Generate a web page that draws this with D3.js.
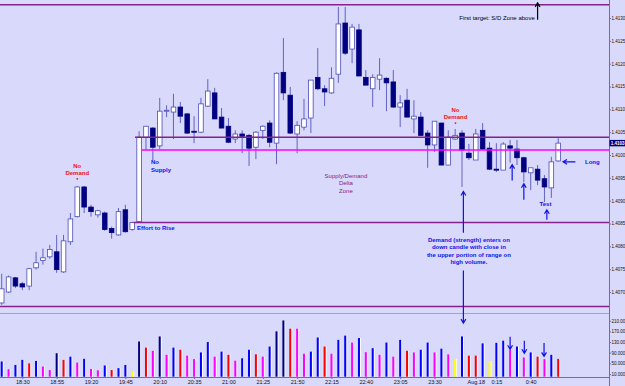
<!DOCTYPE html>
<html>
<head>
<meta charset="utf-8">
<script src="https://cdn.jsdelivr.net/npm/d3@7"></script>
<style>
  body { margin: 0; background: #d9d9fb; }
  svg { display: block; font-family: "Liberation Sans", Arial, sans-serif; }
  .axis text { fill: #111; font-size: 5.5px; }
  .axis.right text { font-size: 4.5px; }
  .axis path, .axis line { stroke: #6c6cb4; }
</style>
</head>
<body>
<svg id="chart" width="625" height="386"></svg>
<script>
// EURUSD-ish 5 min candles, 18:15 -> 1:00
const opens = [
  1.40676, 1.40700, 1.40731, 1.40718, 1.40713, 1.40753, 1.40769, 1.40777, 1.40788, 1.40744,
  1.40810, 1.40865, 1.40930, 1.40886, 1.40869, 1.40873, 1.40839, 1.40825, 1.40880, 1.40837,
  1.40854, 1.41039, 1.41059, 1.41020, 1.41096, 1.41094, 1.41105, 1.41090, 1.41052, 1.41050,
  1.41107, 1.41136, 1.41083, 1.41063, 1.41035, 1.41046, 1.41043, 1.41017, 1.41054, 1.41070,
  1.41026, 1.41181, 1.41131, 1.41046, 1.41061, 1.41081, 1.41170, 1.41145, 1.41136, 1.41177,
  1.41289, 1.41232, 1.41274, 1.41170, 1.41145, 1.41166, 1.41168, 1.41160, 1.41105, 1.41120,
  1.41079, 1.41083, 1.41048, 1.41022, 1.41070, 1.40978, 1.41035, 1.41048, 1.41004, 1.40989,
  1.41054, 1.41015, 1.40969, 1.40967, 1.41020, 1.41013, 1.40994, 1.40961, 1.40969, 1.40948,
  1.40928, 1.40987
];
const highs = [
  1.40740, 1.40736, 1.40733, 1.40722, 1.40753, 1.40788, 1.40795, 1.40803, 1.40825, 1.40825,
  1.40873, 1.40932, 1.40932, 1.40891, 1.40880, 1.40876, 1.40843, 1.40884, 1.40891, 1.40854,
  1.41052, 1.41063, 1.41061, 1.41125, 1.41109, 1.41134, 1.41116, 1.41092, 1.41085, 1.41125,
  1.41166, 1.41147, 1.41103, 1.41081, 1.41054, 1.41054, 1.41046, 1.41052, 1.41065, 1.41076,
  1.41181, 1.41256, 1.41149, 1.41074, 1.41123, 1.41164, 1.41234, 1.41153, 1.41192, 1.41324,
  1.41324, 1.41287, 1.41287, 1.41186, 1.41177, 1.41212, 1.41170, 1.41186, 1.41131, 1.41145,
  1.41120, 1.41094, 1.41054, 1.41074, 1.41070, 1.41054, 1.41057, 1.41054, 1.41024, 1.41057,
  1.41070, 1.41028, 1.41026, 1.41028, 1.41033, 1.41033, 1.40996, 1.40972, 1.40978, 1.40956,
  1.40996, 1.41037
];
const lows = [
  1.40672, 1.40698, 1.40709, 1.40704, 1.40704, 1.40749, 1.40760, 1.40773, 1.40742, 1.40742,
  1.40803, 1.40863, 1.40873, 1.40865, 1.40863, 1.40834, 1.40817, 1.40823, 1.40830, 1.40834,
  1.40852, 1.41011, 1.40989, 1.41013, 1.41083, 1.41035, 1.41070, 1.41046, 1.41026, 1.41048,
  1.41105, 1.41079, 1.41059, 1.41026, 1.41026, 1.41004, 1.40976, 1.40991, 1.41035, 1.41017,
  1.40980, 1.41120, 1.41046, 1.41004, 1.41054, 1.41048, 1.41142, 1.41107, 1.41134, 1.41158,
  1.41219, 1.41201, 1.41173, 1.41153, 1.41105, 1.41142, 1.41096, 1.41103, 1.41061, 1.41083,
  1.41048, 1.41041, 1.40972, 1.41007, 1.40978, 1.40978, 1.41033, 1.40930, 1.40989, 1.40989,
  1.41011, 1.40967, 1.40963, 1.40967, 1.40983, 1.40978, 1.40941, 1.40923, 1.40934, 1.40897,
  1.40906, 1.40985
];
const closes = [
  1.40707, 1.40733, 1.40713, 1.40711, 1.40751, 1.40764, 1.40775, 1.40793, 1.40749, 1.40812,
  1.40860, 1.40930, 1.40886, 1.40876, 1.40878, 1.40837, 1.40830, 1.40876, 1.40832, 1.40852,
  1.41039, 1.41063, 1.41017, 1.41096, 1.41098, 1.41105, 1.41085, 1.41048, 1.41050, 1.41112,
  1.41140, 1.41079, 1.41059, 1.41028, 1.41046, 1.41041, 1.41015, 1.41050, 1.41063, 1.41028,
  1.41179, 1.41136, 1.41048, 1.41065, 1.41079, 1.41164, 1.41145, 1.41138, 1.41168, 1.41287,
  1.41223, 1.41280, 1.41173, 1.41153, 1.41170, 1.41175, 1.41158, 1.41105, 1.41114, 1.41083,
  1.41085, 1.41043, 1.41022, 1.41074, 1.40978, 1.41039, 1.41043, 1.41011, 1.40994, 1.41046,
  1.41013, 1.40969, 1.40967, 1.41024, 1.41015, 1.40994, 1.40963, 1.40972, 1.40945, 1.40930,
  1.40985, 1.41026
];
const volumes = [
  57, 28, 44, 63, 50, 59, 38, 25, 88, 63,
  75, 53, 67, 29, 24, 42, 25, 32, 44, 19,
  132, 109, 97, 151, 82, 109, 101, 79, 66, 91,
  130, 75, 94, 82, 60, 69, 101, 84, 75, 113,
  170, 211, 180, 180, 86, 94, 147, 113, 86, 138,
  154, 128, 145, 92, 107, 82, 128, 75, 138, 97,
  91, 101, 128, 91, 105, 84, 67, 151, 79, 79,
  125, 59, 127, 135, 101, 113, 72, 91, 75, 66,
  82, 67
];
// VSA volume class: b = up, n = climax, r = down, m = low, y = very low
const volTypes = [
  'b','m','b','b','r','b','m','m','n','r',
  'b','m','b','m','m','b','r','b','b','y',
  'n','r','m','n','m','b','r','m','m','b',
  'b','m','b','r','m','b','b','r','m','b',
  'n','n','r','m','m','b','b','r','m','b',
  'b','m','b','m','b','m','b','m','b','r',
  'm','b','b','m','b','m','y','b','r','r',
  'b','y','b','b','m','b','m','b','r','m',
  'b','r'
];

const timeTickIdx = [3, 8, 13, 18, 23, 28, 33, 38, 43, 48, 53, 58, 63, 69, 72, 77];
const timeTickLabels = ['18:30', '18:55', '19:20', '19:45', '20:10', '20:35', '21:00', '21:25',
  '21:50', '22:15', '22:40', '23:05', '23:30', 'Aug.18', '0:15', '0:40'];
const priceTicks = [1.4070, 1.4075, 1.4080, 1.4085, 1.4090, 1.4095, 1.4100,
  1.4105, 1.4110, 1.4115, 1.4120, 1.4125, 1.4130];
const volTicks = [10, 50, 90, 130, 170, 210];

// horizontal levels (price, first candle it starts at)
const levelPrices = [1.41329, 1.41039, 1.41011, 1.40852, 1.40668];
const levelFrom = [-1, 19.4, 20.4, 19.2, -1];
const levelKind = ['zone', 'zone', 'pivot', 'zone', 'zone'];

const colors = {
  bg: '#d9d9fb', bull: '#ffffff', bear: '#000080', edge: '#4c4cb8', wick: '#6262c6',
  zone: '#86208a', pivot: '#ff00ff', red: '#f01414', blue: '#1212e8', purple: '#86208a'
};
const volColor = d3.scaleOrdinal()
  .domain(['b', 'n', 'r', 'm', 'y'])
  .range(['#0000ff', '#000080', '#ff0000', '#ff00ff', '#ffff00']);

const svg = d3.select('#chart');
const plotRight = 609.5;

const x = d3.scaleLinear().domain([0, closes.length - 1]).range([1.7, 558.2]);
const y = d3.scaleLinear().domain([1.4070, 1.4130]).range([292, 18]);
const yVol = d3.scaleLinear().domain([0, 210]).range([376.7, 320.7]);

svg.append('rect').attr('width', 625).attr('height', 386).attr('fill', colors.bg);

const candles = closes.map((c, i) => ({
  i, o: opens[i], h: highs[i], l: lows[i], c, v: volumes[i], t: volTypes[i]
}));

// panel separator
svg.append('line')
  .attr('x1', 0).attr('x2', plotRight).attr('y1', 313.5).attr('y2', 313.5)
  .attr('stroke', '#a4a4b4').attr('stroke-width', 1);

// candles
const cg = svg.append('g');
cg.selectAll('line.wick')
  .data(candles)
  .enter()
  .append('line')
  .attr('class', 'wick')
  .attr('x1', d => x(d.i)).attr('x2', d => x(d.i))
  .attr('y1', d => y(d.h)).attr('y2', d => y(d.l))
  .attr('stroke', colors.wick)
  .attr('stroke-width', 1);

cg.selectAll('rect.body')
  .data(candles)
  .enter()
  .append('rect')
  .attr('class', 'body')
  .attr('x', d => x(d.i) - 2.3)
  .attr('width', 4.6)
  .attr('y', d => Math.min(y(d.o), y(d.c)))
  .attr('height', d => Math.max(1, Math.abs(y(d.o) - y(d.c))))
  .attr('fill', d => d.c >= d.o ? colors.bull : colors.bear)
  .attr('stroke', d => d.c >= d.o ? colors.edge : colors.bear)
  .attr('stroke-width', 0.8);

// level lines
levelPrices.forEach((p, k) => {
  svg.append('line')
    .attr('x1', levelFrom[k] < 0 ? 0 : x(levelFrom[k]))
    .attr('x2', plotRight)
    .attr('y1', y(p)).attr('y2', y(p))
    .attr('stroke', colors[levelKind[k]])
    .attr('stroke-width', 1.5);
});

// volume bars
const vg = svg.append('g');
vg.selectAll('rect.hl')
  .data(candles)
  .enter()
  .append('rect')
  .attr('x', d => x(d.i) + 1)
  .attr('width', 1)
  .attr('y', d => yVol(d.v))
  .attr('height', d => yVol(0) - yVol(d.v))
  .attr('fill', '#ffffff');
vg.selectAll('rect.vol')
  .data(candles)
  .enter()
  .append('rect')
  .attr('x', d => x(d.i) - 1)
  .attr('width', 2)
  .attr('y', d => yVol(d.v))
  .attr('height', d => yVol(0) - yVol(d.v))
  .attr('fill', d => volColor(d.t));

// axes
svg.append('g')
  .attr('class', 'axis right')
  .attr('transform', `translate(${plotRight}, 0)`)
  .call(d3.axisRight(y).tickValues(priceTicks).tickSize(1.5).tickPadding(0.5)
    .tickFormat(d3.format('.4f')))
  .select('.domain').remove();

svg.append('g')
  .attr('class', 'axis right')
  .attr('transform', `translate(${plotRight}, 0)`)
  .call(d3.axisRight(yVol).tickValues(volTicks).tickSize(1.5).tickPadding(0.5)
    .tickFormat(d => d >= 100 ? d.toFixed(2) : d.toFixed(3)))
  .select('.domain').remove();

svg.append('line')
  .attr('x1', plotRight).attr('x2', plotRight).attr('y1', 0).attr('y2', 386)
  .attr('stroke', '#6c6cb4');

const timeAxis = svg.append('g')
  .attr('class', 'axis')
  .attr('transform', 'translate(0, 377)')
  .call(d3.axisBottom(x).tickValues(timeTickIdx).tickSize(2).tickPadding(1)
    .tickFormat((d, k) => timeTickLabels[k]));
timeAxis.select('.domain').attr('d', `M0,0.5H${plotRight}`).attr('stroke', '#a4a4b4');

// current price box
const last = candles[candles.length - 1];
svg.append('rect')
  .attr('x', plotRight).attr('y', y(last.c) - 3.2)
  .attr('width', 15.5).attr('height', 6.4)
  .attr('fill', colors.bear);
svg.append('text')
  .attr('x', plotRight + 1.2).attr('y', y(last.c))
  .attr('dominant-baseline', 'central')
  .attr('fill', '#fff')
  .attr('font-size', 4.5)
  .attr('font-weight', 'bold')
  .text(last.c.toFixed(4));

// annotations (candle index, price)
const notes = [
  { lines: ['No', 'Demand'], i: 11, p: 1.40977, anchor: 'middle', color: colors.red, bold: true, dot: true },
  { lines: ['No', 'Demand'], i: 66.05, p: 1.41099, anchor: 'middle', color: colors.red, bold: true, dot: true },
  { lines: ['No', 'Supply'], i: 21.73, p: 1.40984, anchor: 'start', color: colors.blue, bold: true },
  { lines: ['Effort to Rise'], i: 19.7, p: 1.40841, anchor: 'start', color: colors.blue, bold: true },
  { lines: ['Supply/Demand', 'Delta', 'Zone'], i: 50.1, p: 1.40954, anchor: 'middle', color: colors.purple, bold: false },
  { lines: ['First target: S/D Zone above'], i: 72.1, p: 1.41300, anchor: 'middle', color: '#000', bold: false },
  { lines: ['Demand (strength) enters on', 'down candle with close in',
      'the upper portion of range on', 'high volume.'], i: 68.0, p: 1.40814, anchor: 'middle', color: colors.blue, bold: true },
  { lines: ['Test'], i: 79.15, p: 1.40893, anchor: 'middle', color: colors.blue, bold: true },
  { lines: ['Long'], i: 84.9, p: 1.40985, anchor: 'start', color: colors.blue, bold: true }
];
const lineGap = 7.3;
notes.forEach(n => {
  const t = svg.append('text')
    .attr('x', x(n.i)).attr('y', y(n.p))
    .attr('text-anchor', n.anchor)
    .attr('fill', n.color)
    .attr('font-size', 6)
    .attr('font-weight', n.bold ? 'bold' : 'normal');
  n.lines.forEach((s, k) => {
    t.append('tspan')
      .attr('x', x(n.i))
      .attr('y', y(n.p) + k * lineGap)
      .attr('dominant-baseline', 'central')
      .text(s);
  });
  if (n.dot) {
    svg.append('circle')
      .attr('cx', x(n.i)).attr('cy', y(n.p) + (n.lines.length - 1) * lineGap + 6)
      .attr('r', 0.9).attr('fill', n.color);
  }
});

// arrows: ends are [candle index, value, panel]
const arrows = [
  { from: [78.0, 1.41296, 'p'], to: [78.0, 1.41333, 'p'], color: '#000' },
  { from: [67.2, 1.40830, 'p'], to: [67.2, 1.40920, 'p'], color: colors.blue },
  { from: [67.2, 1.40747, 'p'], to: [67.2, 201, 'v'], color: colors.blue },
  { from: [74.3, 1.40944, 'p'], to: [74.3, 1.40979, 'p'], color: colors.blue },
  { from: [76.0, 1.40902, 'p'], to: [76.0, 1.40937, 'p'], color: colors.blue },
  { from: [79.35, 1.40858, 'p'], to: [79.35, 1.40880, 'p'], color: colors.blue },
  { from: [83.5, 1.40985, 'p'], to: [81.7, 1.40985, 'p'], color: colors.blue },
  { from: [74.0, 150, 'v'], to: [74.0, 103, 'v'], color: colors.blue },
  { from: [76.07, 135, 'v'], to: [76.07, 88, 'v'], color: colors.blue },
  { from: [78.94, 126, 'v'], to: [78.94, 76, 'v'], color: colors.blue }
];
const pt = e => [x(e[0]), e[2] === 'v' ? yVol(e[1]) : y(e[1])];
arrows.forEach(a => {
  const [x1, y1] = pt(a.from);
  const [x2, y2] = pt(a.to);
  const len = Math.hypot(x2 - x1, y2 - y1);
  const ux = (x2 - x1) / len, uy = (y2 - y1) / len;
  const hl = 4, hw = 2.4;
  const bx = x2 - ux * hl, by = y2 - uy * hl;
  svg.append('path')
    .attr('d', `M${x1},${y1}L${x2},${y2}` +
      `M${bx - uy * hw},${by + ux * hw}L${x2},${y2}L${bx + uy * hw},${by - ux * hw}`)
    .attr('fill', 'none')
    .attr('stroke', a.color)
    .attr('stroke-width', 1.2);
});
</script>
</body>
</html>
